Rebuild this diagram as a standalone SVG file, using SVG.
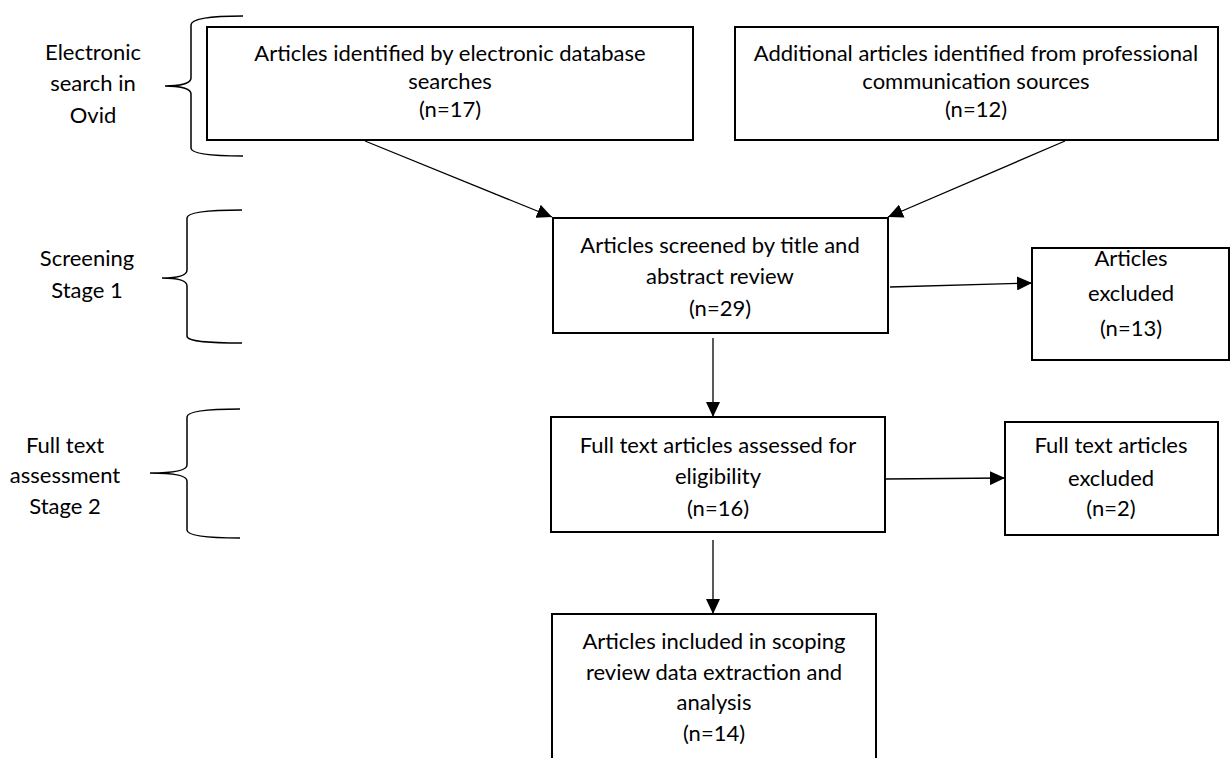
<svg xmlns="http://www.w3.org/2000/svg" width="1230" height="758" viewBox="0 0 1230 758">
<style>
.box{fill:#fff;stroke:#000;stroke-width:2}
.t{font-family:Lato,"Open Sans",sans-serif;font-size:22px;fill:#000;text-anchor:middle}
.brace{fill:none;stroke:#000;stroke-width:1.5}
.con{stroke:#000;stroke-width:1.3;fill:none;marker-end:url(#ah)}
</style>
<defs>
<marker id="ah" markerUnits="userSpaceOnUse" markerWidth="16" markerHeight="14" refX="15" refY="7" orient="auto">
<path d="M0,0 L15,7 L0,14 Z" fill="#000"/>
</marker>
</defs>
<rect width="1230" height="758" fill="#fff"/>

<g id="brace-electronic">
<path class="brace" d="M243,16 C215,16 191,18 191,25 L191,78 C191,84 178,86 165,86 C178,86 191,88 191,94 L191,148 C191,154 215,156 243,156"/>
<text class="t" x="93" y="60">Electronic</text>
<text class="t" x="93" y="91">search in</text>
<text class="t" x="93" y="123">Ovid</text>
</g>
<g id="brace-screening">
<path class="brace" d="M242,210 C212,210 187,212 187,218 L187,270 C187,276 175,278 162,278 C175,278 187,280 187,286 L187,336 C187,342 212,343 242,343"/>
<text class="t" x="87" y="266">Screening</text>
<text class="t" x="87" y="298">Stage 1</text>
</g>
<g id="brace-fulltext">
<path class="brace" d="M240,409 C210,409 187,411 187,417 L187,465 C187,471 170,473 150,473 C170,473 187,475 187,481 L187,530 C187,536 210,538 240,538"/>
<text class="t" x="65" y="453">Full text</text>
<text class="t" x="65" y="483">assessment</text>
<text class="t" x="65" y="514">Stage 2</text>
</g>

<g id="connectors">
<line class="con" x1="365" y1="141" x2="552" y2="217"/>
<line class="con" x1="1065" y1="141" x2="888" y2="217"/>
<line class="con" x1="890" y1="287" x2="1032" y2="283"/>
<line class="con" x1="713" y1="338" x2="713" y2="417"/>
<line class="con" x1="885" y1="479" x2="1005" y2="478"/>
<line class="con" x1="713" y1="540" x2="713" y2="614"/>
</g>

<g id="n1">
<rect class="box" x="207" y="27" width="486" height="113"/>
<text class="t" x="450" y="61">Articles identified by electronic database</text>
<text class="t" x="450" y="89">searches</text>
<text class="t" x="450" y="117">(n=17)</text>
</g>
<g id="n2">
<rect class="box" x="735" y="27" width="483" height="113"/>
<text class="t" x="976" y="61">Additional articles identified from professional</text>
<text class="t" x="976" y="89">communication sources</text>
<text class="t" x="976" y="117">(n=12)</text>
</g>
<g id="n3">
<rect class="box" x="553" y="218" width="335" height="115"/>
<text class="t" x="720" y="253">Articles screened by title and</text>
<text class="t" x="720" y="284">abstract review</text>
<text class="t" x="720" y="316">(n=29)</text>
</g>
<g id="n4">
<rect class="box" x="1032" y="248" width="197" height="112"/>
<text class="t" x="1131" y="266">Articles</text>
<text class="t" x="1131" y="301">excluded</text>
<text class="t" x="1131" y="336">(n=13)</text>
</g>
<g id="n5">
<rect class="box" x="551" y="417" width="334" height="115"/>
<text class="t" x="718" y="453">Full text articles assessed for</text>
<text class="t" x="718" y="484">eligibility</text>
<text class="t" x="718" y="516">(n=16)</text>
</g>
<g id="n6">
<rect class="box" x="1005" y="422" width="213" height="113"/>
<text class="t" x="1111" y="453">Full text articles</text>
<text class="t" x="1111" y="486">excluded</text>
<text class="t" x="1111" y="516">(n=2)</text>
</g>
<g id="n7">
<rect class="box" x="552" y="614" width="324" height="160"/>
<text class="t" x="714" y="649">Articles included in scoping</text>
<text class="t" x="714" y="680">review data extraction and</text>
<text class="t" x="714" y="710">analysis</text>
<text class="t" x="714" y="741">(n=14)</text>
</g>
</svg>
